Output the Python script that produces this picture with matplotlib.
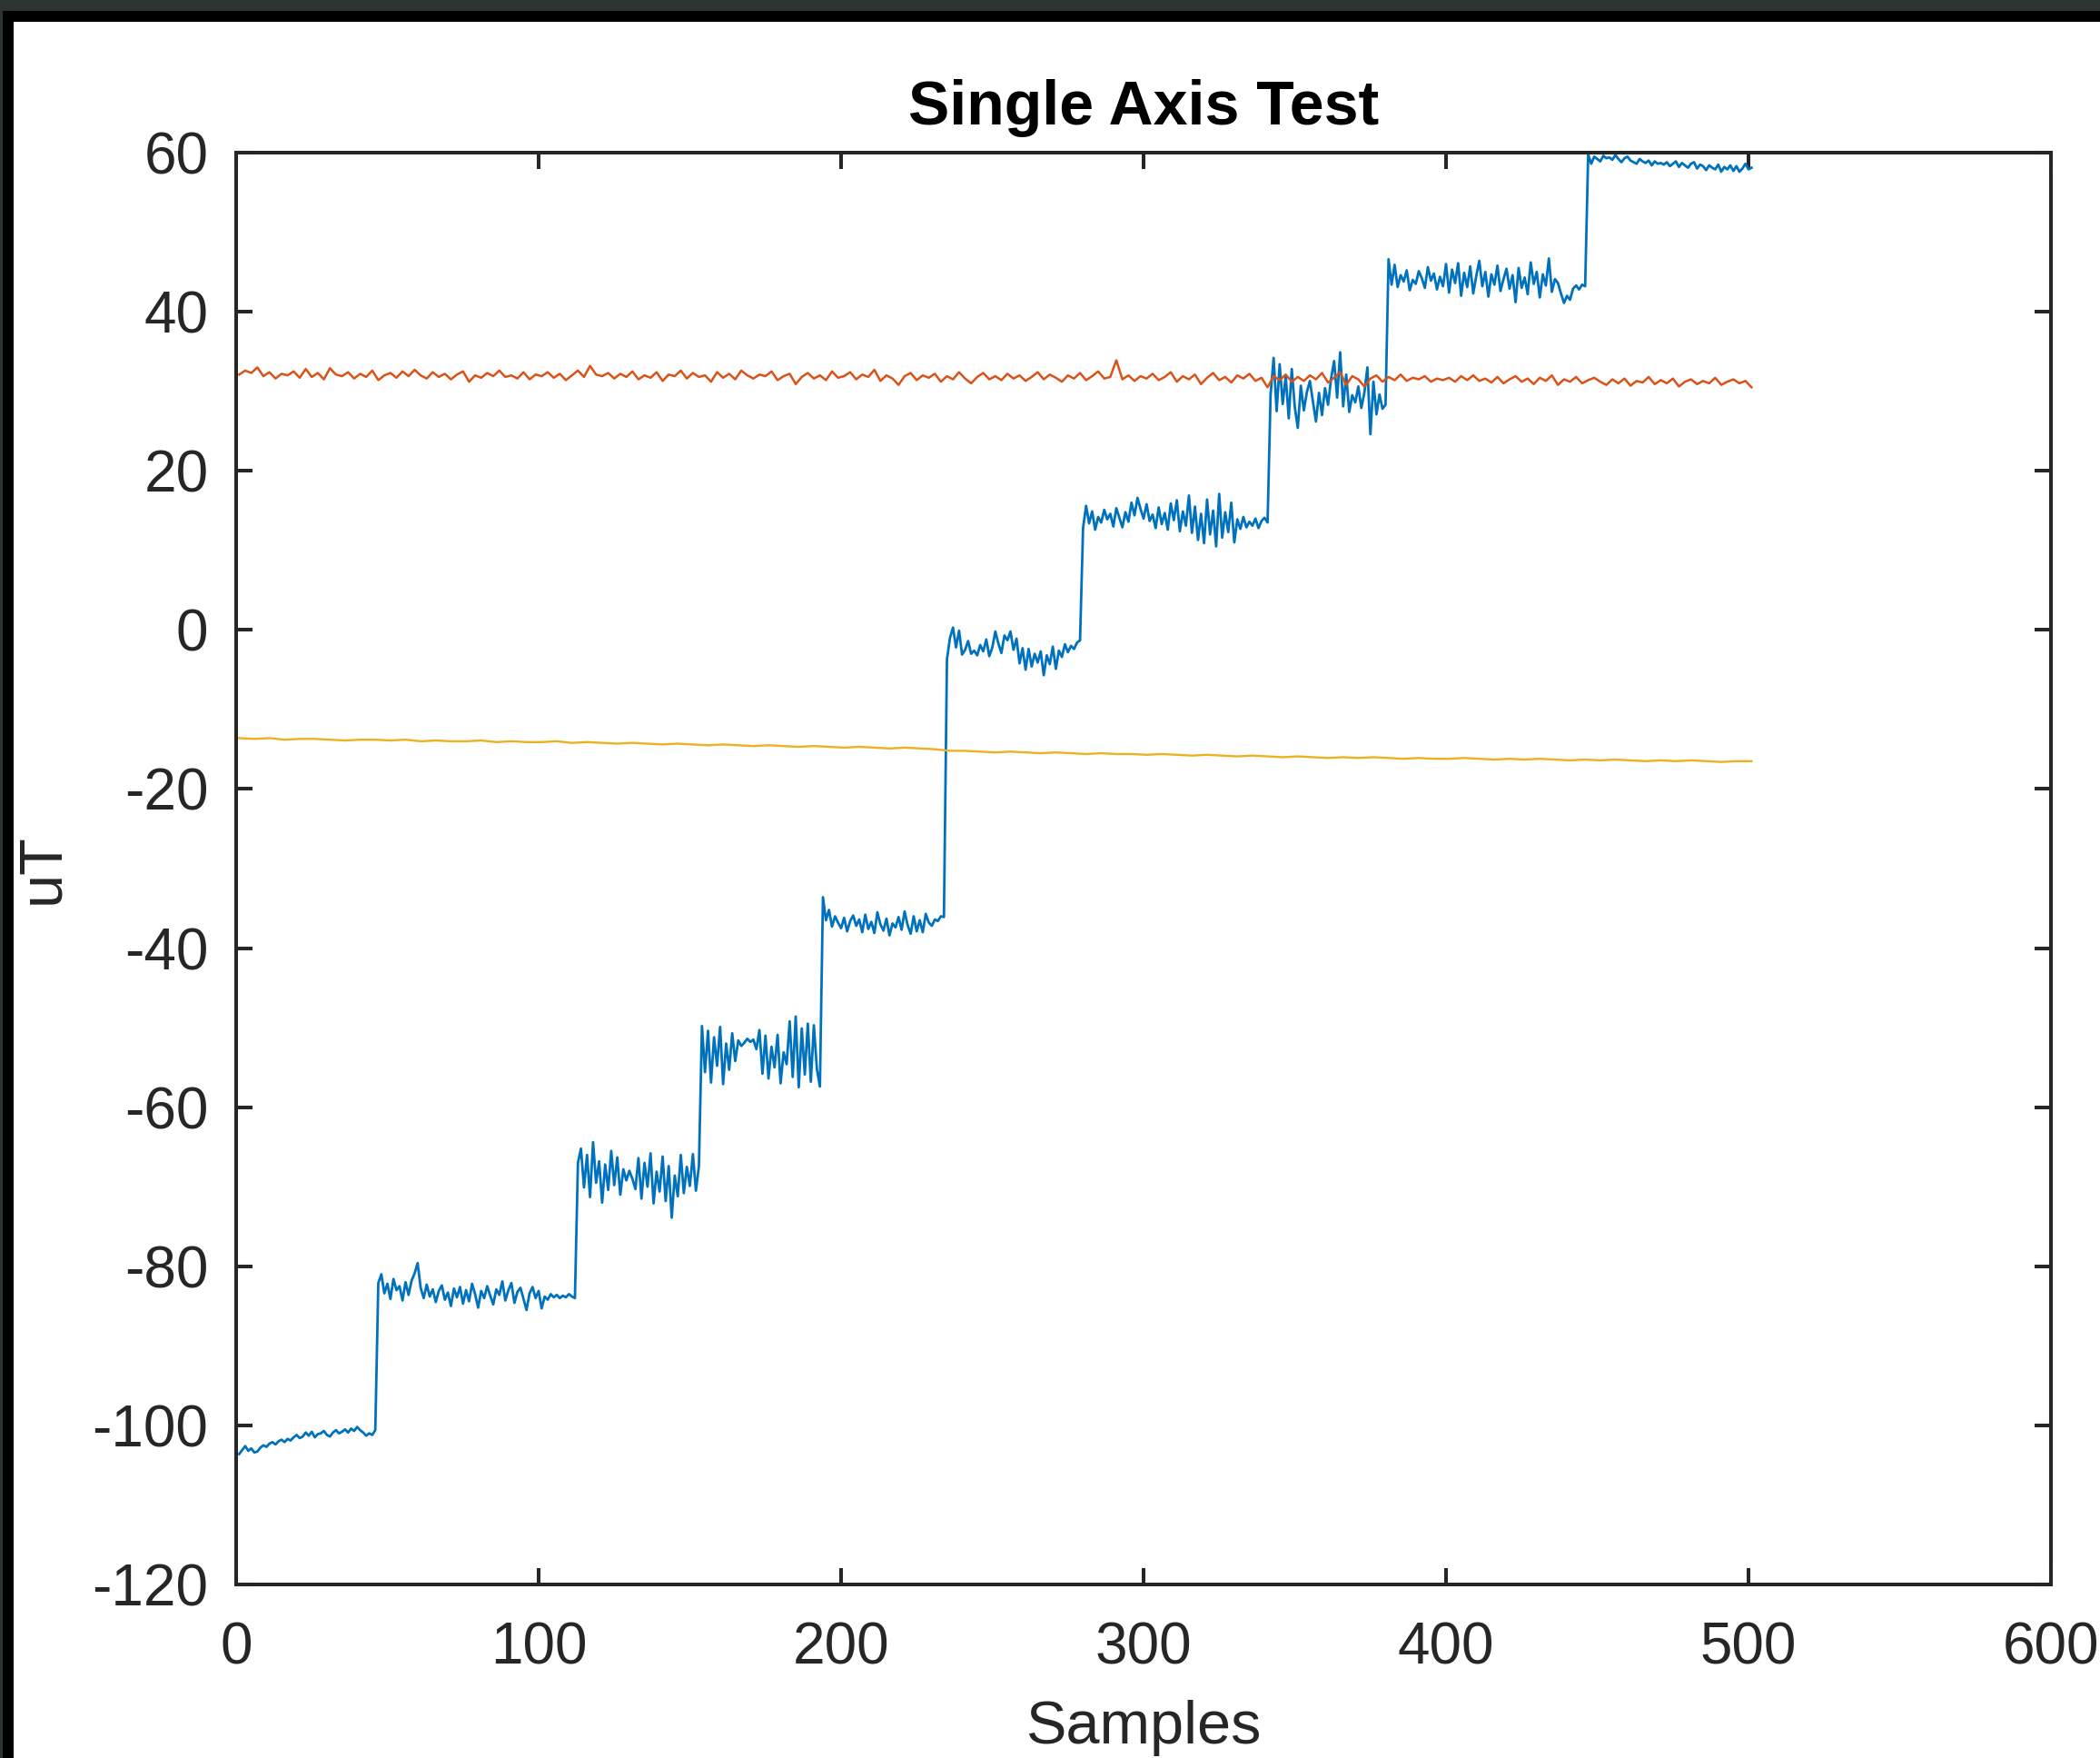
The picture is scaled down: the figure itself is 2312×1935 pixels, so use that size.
import numpy as np
import matplotlib
matplotlib.use("Agg")
import matplotlib.pyplot as plt
from matplotlib.patches import Rectangle

plt.rcParams['font.family'] = ['Liberation Sans', 'DejaVu Sans']
plt.rcParams['axes.unicode_minus'] = False

# ---------------- data (uT per sample) ----------------
blue_s1 = [-103.6, -103.1, -102.6, -103.2, -102.9, -103.4, -103.3, -102.8, -102.5, -102.7,
           -102.3, -102.1, -102.4, -102.0, -101.8, -102.1, -101.7, -101.9, -101.5, -101.2,
           -101.6, -101.4, -100.9, -101.3, -100.8, -101.5, -101.1, -101.0, -100.7, -101.2,
           -101.4, -100.9, -100.6, -101.0, -100.8, -100.5, -100.9, -100.4, -100.7, -100.2,
           -100.6, -100.9, -101.3, -101.0, -101.2, -100.6]
blue_s2 = [-82.1, -81.0, -83.4, -82.2, -84.1, -81.6, -83.0, -82.5, -84.3, -82.0,
           -83.6, -81.8, -80.9, -79.6, -82.7, -84.0, -82.3, -83.8, -82.9, -84.5,
           -83.1, -82.4, -84.2, -83.3, -85.0, -82.8, -83.9, -82.6, -84.7, -83.0,
           -84.4, -82.2, -83.5, -85.2, -83.1, -84.0, -82.5, -83.7, -84.8, -82.9,
           -83.6, -81.9, -84.3, -83.0, -82.1, -84.6, -83.2, -82.7, -84.1, -85.5,
           -83.4, -82.6, -84.0, -83.1, -85.3, -83.8, -84.2, -83.5, -83.9, -83.6,
           -84.0, -83.7, -83.9, -83.5, -83.8, -84.0]
blue_s3 = [-67.0, -65.2, -70.1, -66.0, -71.3, -64.4, -69.5, -66.8, -72.0, -67.2,
           -70.4, -65.5, -69.8, -66.3, -71.0, -67.8, -69.2, -68.0, -69.0, -70.3,
           -66.4, -71.5, -67.0, -70.0, -65.8, -72.1, -68.1, -70.6, -66.2, -71.8,
           -67.4, -73.9, -68.6, -71.2, -66.0, -70.8, -67.5, -69.9, -65.9, -70.5,
           -67.4]
blue_s4 = [-49.8, -55.6, -50.4, -56.9, -51.2, -54.8, -49.9, -57.1, -52.0, -55.3,
           -50.7, -54.2, -51.6, -52.3, -51.9, -51.4, -51.8, -51.5, -52.7, -50.3,
           -55.8, -51.0, -56.4, -52.4, -55.0, -50.9, -57.0, -53.1, -54.6, -49.2,
           -56.2, -48.6, -57.5, -50.1, -55.9, -49.5, -56.8, -49.7, -55.2, -57.4]
blue_s5 = [-33.6, -36.5, -35.2, -37.3, -36.0, -36.8, -37.5, -36.2, -37.9, -36.6,
           -35.9, -37.2, -36.4, -38.0, -35.8, -37.6, -36.7, -38.1, -35.5, -37.0,
           -37.8, -36.3, -38.4, -36.9, -37.4, -36.1, -37.7, -35.4, -37.1, -38.2,
           -36.0, -37.9, -36.5, -38.0, -35.7, -36.8, -37.2, -36.4, -36.6, -36.0,
           -36.1]
blue_s6 = [-3.7, -1.0, 0.3, -2.2, -0.1, -3.1, -2.5, -1.4, -3.0, -2.6,
           -3.2, -1.9, -2.7, -1.2, -3.3, -2.2, -0.2, -1.7, -2.9, -0.7,
           -1.3, -0.2, -2.5, -1.1, -4.2, -2.3, -5.0, -2.4, -4.6, -3.0,
           -4.1, -2.7, -5.7, -3.2, -4.3, -2.1, -4.9, -2.6, -3.4, -1.8,
           -2.8, -2.0, -2.4, -1.6, -1.3]
blue_s7 = [12.8, 15.6, 13.4, 14.9, 12.6, 14.2, 13.5, 15.1, 13.9, 14.6,
           13.0, 15.3, 14.1, 12.9, 14.8, 13.6, 16.0, 14.4, 16.6, 15.2,
           14.0, 15.8, 13.7, 14.5, 12.8, 15.4, 13.3, 14.7, 12.6, 15.9,
           13.8, 16.3, 12.4, 14.9, 13.1, 16.9, 12.2, 15.5, 11.3, 14.6,
           10.9, 16.4, 12.0, 15.0, 10.5, 17.1, 11.6, 14.8, 12.3, 16.0,
           11.0, 13.9, 12.7, 14.2, 12.9, 13.6, 13.1, 14.0, 12.8, 13.7,
           14.1, 13.5]
blue_s8 = [29.6, 34.2, 27.5, 33.4, 28.4, 31.9, 26.6, 32.8, 28.0, 25.4,
           30.7, 27.6, 29.9, 31.3, 28.7, 26.2, 29.8, 27.0, 30.4, 28.3,
           31.6, 33.8, 29.2, 34.9, 28.1, 32.1, 27.4, 29.5, 28.6, 30.6,
           27.9, 29.8, 33.0, 24.6, 31.2, 27.1, 29.6, 27.8, 28.3]
blue_s9 = [46.6, 43.4, 45.9, 43.1, 44.6, 43.8, 45.2, 42.7, 44.0, 43.5,
           45.1, 44.2, 43.0, 45.6, 43.9, 44.8, 42.8, 44.4, 43.2, 46.0,
           42.4, 45.3, 43.6, 46.1, 42.0, 44.9, 43.1, 45.7, 42.3, 44.5,
           46.4, 43.2, 45.0, 41.9, 44.7, 43.4, 45.8, 42.6, 44.1, 45.4,
           42.9, 44.6, 41.2, 45.5, 43.0, 44.3, 42.2, 46.2, 43.5, 45.0,
           41.8, 44.7, 43.3, 46.7, 42.5, 44.1, 43.6, 42.3, 41.1, 42.0,
           41.5, 42.9, 43.3, 42.8, 43.4, 43.2]
blue_s10 = [59.8, 58.6, 59.5, 59.2, 58.9, 59.6, 59.3, 59.4, 59.1, 59.7,
            59.2, 58.8, 59.3, 59.5, 59.0, 58.8, 58.6, 59.2, 58.9, 58.7,
            59.0, 58.4, 58.9, 58.6, 58.7, 58.5, 58.8, 58.3, 58.6, 58.9,
            58.2, 58.7, 58.4, 58.1, 58.6, 58.8, 58.0, 58.5, 58.3, 57.8,
            58.4, 58.1, 57.9, 58.5, 57.6, 58.2, 57.9, 58.4, 57.7, 58.3,
            57.6, 58.0, 58.6, 57.9, 58.1]

# orange axis: read every 2nd sample
orange_vals = [32.1, 32.6, 32.3, 33.0, 31.9, 32.4, 31.6, 32.2, 32.0, 32.5, 31.7, 32.8, 31.8, 32.3, 31.5, 32.9, 32.1, 31.9, 32.4, 31.6, 32.2, 31.8, 32.6, 31.4, 32.0,
               32.3, 31.7, 32.5, 31.9, 32.7, 32.0, 31.6, 32.4, 31.8, 32.2, 31.5, 32.1, 32.5, 31.2, 32.0, 31.7, 32.3, 31.9, 32.6, 31.8, 32.0, 31.6, 32.4, 31.5, 32.1,
               31.9, 32.4, 31.7, 32.2, 31.4, 32.0, 32.6, 31.8, 33.2, 32.1, 31.9, 32.3, 31.6, 32.2, 31.8, 32.5, 31.5, 32.0, 31.7, 32.4, 31.3, 32.1, 31.9, 32.6, 31.6,
               32.3, 31.8, 32.0, 31.2, 32.4, 31.7, 32.2, 31.5, 32.6, 32.0, 31.6, 32.1, 31.9, 32.5, 31.4, 31.9, 32.2, 30.9, 31.8, 32.3, 31.6, 32.0, 31.4, 32.5, 31.7,
               31.9, 32.4, 31.5, 32.1, 31.8, 32.7, 31.3, 32.0, 31.6, 30.8, 31.9, 32.3, 31.4, 32.0, 31.7, 32.2, 31.2, 31.9, 31.5, 32.4, 31.6, 31.0, 31.8, 32.3, 31.5,
               31.9, 31.4, 32.2, 31.6, 32.0, 31.3, 31.8, 32.4, 31.5, 32.1, 31.7, 31.2, 32.0, 31.6, 32.3, 31.4, 31.9, 32.5, 31.6, 31.8, 33.9, 31.5, 32.0, 31.3, 31.9,
               31.6, 32.2, 31.4, 31.8, 32.4, 31.2, 31.9, 31.5, 32.1, 30.9, 31.7, 32.3, 31.4, 31.8, 31.1, 32.0, 31.6, 32.2, 31.3, 31.7, 30.5, 31.9, 31.4, 32.1, 31.2,
               31.8, 31.3, 32.0, 31.5, 32.3, 31.1, 31.7, 32.4, 30.8, 31.9, 31.5, 30.6, 31.6, 32.0, 31.2, 31.8, 31.4, 32.1, 31.3, 31.7, 31.5, 31.9, 31.2, 31.6, 31.4,
               31.7, 31.2, 31.9, 31.4, 32.0, 31.3, 31.6, 31.1, 31.8, 31.0, 31.5, 31.9, 31.2, 31.6, 30.9, 31.7, 31.3, 32.0, 30.8, 31.5, 31.2, 31.8, 31.0, 31.4, 31.7,
               31.2, 30.8, 31.5, 31.0, 31.6, 30.7, 31.3, 31.1, 31.8, 30.9, 31.4, 31.0, 31.6, 30.6, 31.2, 31.5, 30.9, 31.3, 31.0, 31.7, 30.8, 31.2, 31.5, 31.0, 31.3,
               30.5]

# yellow axis: read every 5th sample
yellow_vals = [-13.6, -13.7, -13.6, -13.8, -13.7, -13.7, -13.8, -13.9, -13.8, -13.8, -13.9, -13.8, -14.0, -13.9, -14.0, -14.0, -13.9, -14.1, -14.0, -14.1,
               -14.1, -14.0, -14.2, -14.1, -14.2, -14.3, -14.2, -14.3, -14.4, -14.3, -14.4, -14.5, -14.4, -14.5, -14.6, -14.5, -14.6, -14.7, -14.6, -14.7,
               -14.8, -14.7, -14.8, -14.9, -14.8, -14.9, -15.0, -15.2, -15.2, -15.3, -15.4, -15.3, -15.4, -15.5, -15.4, -15.5, -15.6, -15.5, -15.6, -15.6,
               -15.7, -15.6, -15.7, -15.8, -15.7, -15.8, -15.9, -15.8, -15.9, -16.0, -15.9, -16.0, -16.1, -16.0, -16.1, -16.0, -16.1, -16.2, -16.1, -16.2,
               -16.2, -16.1, -16.2, -16.3, -16.2, -16.3, -16.2, -16.3, -16.4, -16.3, -16.4, -16.3, -16.4, -16.5, -16.4, -16.5, -16.4, -16.5, -16.6, -16.5,
               -16.5]

title_text = "Single Axis Test"
x_label = "Samples"
y_label = "uT"
x_ticks = [0, 100, 200, 300, 400, 500, 600]
y_ticks = [-120, -100, -80, -60, -40, -20, 0, 20, 40, 60]

blue_vals = (blue_s1 + blue_s2 + blue_s3 + blue_s4 + blue_s5 + blue_s6 + blue_s7
             + blue_s8 + blue_s9 + blue_s10)
x_blue = np.arange(1, len(blue_vals) + 1)
x_orange = np.arange(1, 2 * len(orange_vals), 2)
x_yellow = np.arange(1, 5 * len(yellow_vals), 5)

# ---------------- figure ----------------
W, H = 2312, 1935
fig = plt.figure(figsize=(W / 100, H / 100), dpi=100, facecolor='white')

# screenshot frame (dark band + black border)
fig.patches.append(Rectangle((0, 1 - 24 / H), 1, 24 / H, transform=fig.transFigure,
                             facecolor='black', edgecolor='none', zorder=-5))
fig.patches.append(Rectangle((0, 0), 15 / W, 1, transform=fig.transFigure,
                             facecolor='black', edgecolor='none', zorder=-5))
fig.patches.append(Rectangle((0, 1 - 12 / H), 1, 12 / H, transform=fig.transFigure,
                             facecolor='#2d3532', edgecolor='none', zorder=-4))
fig.patches.append(Rectangle((0, 0), 3 / W, 1, transform=fig.transFigure,
                             facecolor='#2d3532', edgecolor='none', zorder=-4))

ax = fig.add_axes([260 / W, 1 - 1744 / H, 1998 / W, 1576 / H])

ax.plot(x_blue, blue_vals, color='#0072BD', lw=2.0)
ax.plot(x_orange, orange_vals, color='#D95319', lw=1.8)
ax.plot(x_yellow, yellow_vals, color='#EDB120', lw=1.7)

ax.set_xlim(0, 600)
ax.set_ylim(-120, 60)
ax.set_xticks(x_ticks)
ax.set_yticks(y_ticks)

dark = '#262626'
for s in ax.spines.values():
    s.set_linewidth(2.9)
    s.set_color(dark)
ax.tick_params(axis='both', direction='in', length=13, width=2.9, color=dark,
               labelcolor=dark, labelsize=46, top=True, right=True)
ax.tick_params(axis='x', pad=29)
ax.tick_params(axis='y', pad=22)

ax.set_title(title_text, fontsize=49, fontweight='bold', color='black', pad=22)
ax.set_xlabel(x_label, fontsize=48, color=dark, labelpad=19)
ax.set_ylabel(y_label, fontsize=48, color=dark, labelpad=17)

fig.savefig('out.png', dpi=100, facecolor='white')
